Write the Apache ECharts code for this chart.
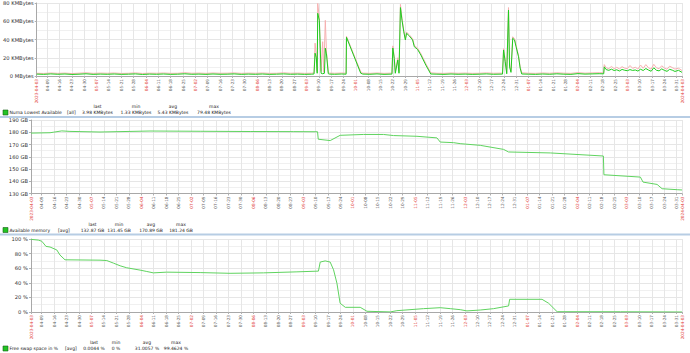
<!DOCTYPE html>
<html><head><meta charset="utf-8">
<script src="https://cdn.jsdelivr.net/npm/echarts@6/dist/echarts.min.js"></script>
<style>html,body{margin:0;padding:0;background:#fff}#c{width:690px;height:353px}</style>
</head><body><div id="c"></div>
<script>
// x values are day offsets from 2023-04-02
const xTickDays = [1,7,14,21,28,35,42,49,56,63,70,77,84,91,98,105,112,119,126,133,140,147,154,161,168,175,182,189,196,203,210,217,224,231,238,245,252,259,266,273,280,287,294,301,308,315,322,329,336,343,350,357,364,367];
const xTickLabels = ['2023-04-03','04-09','04-16','04-23','04-30','05-07','05-14','05-21','05-28','06-04','06-11','06-18','06-25','07-02','07-09','07-16','07-23','07-30','08-06','08-13','08-20','08-27','09-03','09-10','09-17','09-24','10-01','10-08','10-15','10-22','10-29','11-05','11-12','11-19','11-26','12-03','12-10','12-17','12-24','12-31','01-07','01-14','01-21','01-28','02-04','02-11','02-18','02-25','03-03','03-10','03-17','03-24','03-31','2024-04-03'];

const numaAvg = [[1,2.1],[5,1.8],[9,2.3],[13,1.9],[17,2.2],[21,1.7],[25,2.0],[29,2.4],[33,1.8],[37,2.1],[41,1.9],[45,2.2],[49,1.8],[53,2.0],[57,2.3],[61,1.7],[65,2.1],[69,1.9],[73,2.2],[77,1.8],[81,2.0],[85,2.4],[89,1.9],[93,2.1],[97,1.8],[101,2.2],[105,1.9],[109,2.0],[113,2.3],[117,1.8],[121,2.1],[125,1.9],[129,2.2],[133,1.8],[137,2.0],[141,2.3],[145,1.9],[149,2.1],[153,1.8],[157,2.0],
[158.3,2.2],[158.9,25],[159.6,20],[160.1,3],[160.4,68.7],[161.3,61],[162.3,3],[163.2,2.5],[164.2,3],[164.7,30.5],[165.4,23],[166.4,2.5],[167,2.1],
[170,1.9],[174,2.2],[176.5,2.0],[176.7,42.4],[184.8,3.0],[186,2.1],[190,1.9],[194,2.3],[198,1.8],[202.5,2.1],
[203,30.7],[203.8,19],[204.4,3],[205.8,17.5],[206.5,3],[207.3,75],[208.2,61],[209.2,48.5],[210.1,39.5],[210.8,46.8],[212.4,43.8],[214.2,39.5],[215.2,32],[217,29.2],[218.9,23],[221.7,12],[224.5,2.2],
[228,2.0],[232,1.8],[236,2.2],[240,1.9],[244,2.1],[248,1.8],[252,2.0],[256,2.3],[260,1.9],[265.2,2.1],
[265.8,28.5],[266.7,16],[267.6,2.5],[268.6,72.3],[269.2,10],[270,4],[271,41.3],[272,39.5],[272.9,32],[274.3,21],[275.2,8.7],[276.1,2.2],
[280,2.0],[284,1.8],[288,2.2],[292,1.9],[296,2.4],[300,2.0],[304,1.8],[308,2.6],[312,2.1],[316,2.3],[320,2.5],[322.6,2.4],
[322.9,10],[324,7],[325.5,6.2],[327,7.5],[328.5,6.0],[330,6.8],[331.5,5.5],[333,7.2],[334.5,6.3],[336,5.8],[337.5,7.0],[339,6.1],[340.5,6.6],[342,5.4],[343.5,7.4],[345,6.0],[346.5,8.2],[348,6.5],[349.5,5.2],[351,9.0],[352.5,6.3],[354,5.6],[355.5,7.8],[357,6.2],[358.5,5.1],[360,7.3],[361.5,6.4],[363,5.0],[365,6.2],[367,3.98]];

const numaMax = [[1,3.0],[5,2.8],[9,3.3],[13,2.9],[17,3.2],[21,2.7],[25,3.1],[29,3.5],[33,2.9],[37,3.2],[41,3.0],[45,3.3],[49,2.8],[53,3.0],[57,3.4],[61,2.8],[65,3.1],[69,3.0],[73,3.3],[77,2.9],[81,3.0],[85,3.6],[89,3.0],[93,3.2],[97,2.9],[101,3.3],[105,3.0],[109,3.1],[113,3.4],[117,2.9],[121,3.2],[125,3.0],[129,3.3],[133,2.9],[137,3.0],[141,3.5],[145,3.0],[149,3.2],[153,2.9],[157,3.1],
[158.3,3.5],[158.9,36],[159.6,22],[160.1,5],[160.4,79.5],[161.3,64],[162.3,5],[163.2,37.6],[163.8,4],[164.7,61],[165.4,25],[165.8,18],[166.4,4],[167,3.2],
[170,3.0],[174,3.3],[176.5,3.1],[176.7,43.5],[184.8,4.5],[186,3.1],[190,2.9],[194,3.3],[198,2.9],[202.5,3.2],
[203,33],[203.8,21],[204.4,5],[205.8,20],[206.5,5],[207.3,78.5],[208.2,63],[209.2,50],[210.1,41],[210.8,48],[212.4,45],[214.2,41],[215.2,33.5],[217,30.5],[218.9,24.5],[221.7,13.5],[224.5,3.5],
[228,3.0],[232,2.9],[236,3.3],[240,3.0],[244,3.2],[248,2.9],[252,3.0],[256,3.4],[260,3.0],[265.2,3.2],
[265.8,30],[266.7,18],[267.6,4],[268.6,75],[269.2,12],[270,5.5],[271,43],[272,41],[272.9,33.5],[274.3,22.5],[275.2,10],[276.1,3.5],
[280,3.0],[284,2.9],[288,3.3],[292,3.0],[296,3.5],[300,3.1],[304,2.9],[308,3.7],[312,3.1],[316,3.4],[320,3.6],[322.6,3.5],
[322.9,12.5],[324,9],[325.5,8.2],[327,10.5],[328.5,8.0],[330,9.5],[331.5,7.8],[333,10.2],[334.5,8.6],[336,8.0],[337.5,11.5],[339,8.4],[340.5,9.6],[342,7.6],[343.5,12],[345,8.5],[346.5,12.5],[348,9.0],[349.5,7.5],[351,12.8],[352.5,9.0],[354,8.0],[355.5,11.2],[357,8.8],[358.5,7.4],[360,10.8],[361.5,9.2],[363,7.6],[365,8.5],[367,6.0]];

const memAvail = [[1,179.3],[11.7,179.6],[13.5,180],[18.3,181.1],[22.9,180.7],[39.8,180.2],[67.9,181],[96.1,180.8],[124.2,180.6],[148.4,180.5],[162.1,180.4],[162.5,174.3],[169.2,173.2],[174.8,177.5],[187.9,178.2],[199.2,178.2],[204.8,177.3],[218,176.7],[229.2,175.4],[231.1,172],[238.6,171.5],[242.3,170.7],[253.6,169.3],[266.7,166],[269.5,163.9],[293,163.1],[322.8,160.6],[323.1,145.3],[343.6,143.4],[345.1,139.3],[353,137.4],[355.8,133.9],[364.3,133.1],[367,132.87]];

const swapFree = [[1,99.5],[5.1,98.5],[7,97],[7.9,94.5],[9.4,89.9],[11.7,89],[15.5,85],[17.3,78],[20.1,71.5],[39.8,71],[43.6,70.5],[47.3,67],[51.1,63.3],[54.8,60.6],[62.3,57.4],[66.1,55.5],[69.8,53.6],[77.3,54.6],[96.1,54],[112.9,53],[131.7,53.6],[150.5,55],[162.6,56],[163.6,68.4],[166.4,70],[169.2,68.4],[171.1,57.8],[173,39.4],[174.8,12],[177.7,6.4],[186.1,6.4],[189.9,1],[203,0.1],[206.7,1.8],[221.7,4.6],[231.1,5.9],[236.7,4.6],[242.3,3.2],[246.1,1.5],[253.6,2.7],[261.1,4.6],[269.5,8.3],[270.1,17.4],[288.3,17.4],[292,12],[296.8,0.4],[332.4,0.3],[367,0.0044]];

const FONT = 'DejaVu Sans';
const LFS = 4.5;
const grids = [
  {left:31, right:8, top:3, height:73},
  {left:31, right:8, top:120, height:73.5},
  {left:31, right:8, top:239, height:73}
];
function xAxisFor(i){
  return {
    type:'value', gridIndex:i, min:1, max:367,
    axisLine:{show:true, onZero:false, lineStyle:{color:'#a8a8a8', width:1}},
    axisTick:{show:true, customValues:xTickDays, length:2, lineStyle:{color:'#b0b0b0'}},
    axisLabel:{
      customValues:xTickDays, interval:0, rotate:90, margin:3,
      fontFamily:FONT, fontSize:4.2, color:'#555',
      formatter:function(v){
        const idx = xTickDays.indexOf(Math.round(v));
        if(idx<0) return '';
        const l = xTickLabels[idx];
        const red = l.length>5 || parseInt(l.slice(3),10)<=7;
        return red ? '{r|'+l+'}' : l;
      },
      rich:{r:{color:'#e03030', fontFamily:FONT, fontSize:4.2}}
    },
    splitLine:{show:true, lineStyle:{color:'#e6e6e6', width:1}}
  };
}
function yAxisFor(i, min, max, interval, fmt){
  return {
    type:'value', gridIndex:i, min:min, max:max, interval:interval,
    axisLine:{show:true, lineStyle:{color:'#a8a8a8'}},
    axisTick:{show:true, length:2, lineStyle:{color:'#b0b0b0'}},
    axisLabel:{fontFamily:FONT, fontSize:5.2, color:'#333', margin:3, formatter:fmt},
    splitLine:{show:true, lineStyle:{color:'#e6e6e6'}},
    minorTick:{show:false, splitNumber:2},
    minorSplitLine:{show:true, lineStyle:{color:'#f0f0f0'}}
  };
}
const txt = (x,y,t,align) => ({type:'text', x:x, y:y, style:{text:t, fontFamily:FONT, fontSize:LFS, fill:'#222', align:align||'left', verticalAlign:'middle'}});
const sq = (y) => ({type:'rect', shape:{x:3,y:y,width:5,height:5}, style:{fill:'#22c322', stroke:'#1a5e1a', lineWidth:0.6}});
const graphic = [
  {type:'rect', shape:{x:0,y:116,width:690,height:2}, style:{fill:'#b7cde4'}},
  {type:'rect', shape:{x:0,y:233.5,width:690,height:2}, style:{fill:'#b7cde4'}},
  sq(110), txt(9.5,112.5,'Numa Lowest Available'), txt(67,112.5,'[all]'),
  txt(97.5,106.5,'last','center'), txt(136,106.5,'min','center'), txt(173,106.5,'avg','center'), txt(214,106.5,'max','center'),
  txt(97.5,112.5,'3.98 KMBytes','center'), txt(136,112.5,'1.33 KMBytes','center'), txt(173,112.5,'5.43 KMBytes','center'), txt(214,112.5,'79.48 KMBytes','center'),
  sq(227.5), txt(9.5,230,'Available memory'), txt(58,230,'[avg]'),
  txt(92.5,224,'last','center'), txt(119,224,'min','center'), txt(151,224,'avg','center'), txt(181,224,'max','center'),
  txt(92.5,230,'132.87 GB','center'), txt(119,230,'131.45 GB','center'), txt(151,230,'170.89 GB','center'), txt(181,230,'181.24 GB','center'),
  sq(346), txt(9.5,348.5,'Free swap space in %'), txt(65,348.5,'[avg]'),
  txt(94,342.5,'last','center'), txt(116,342.5,'min','center'), txt(147,342.5,'avg','center'), txt(176,342.5,'max','center'),
  txt(94,348.5,'0.0044 %','center'), txt(116,348.5,'0 %','center'), txt(147,348.5,'31.0057 %','center'), txt(176,348.5,'99.4624 %','center')
];
const chart = echarts.init(document.getElementById('c'), null, {renderer:'svg'});
chart.setOption({
  animation:false,
  backgroundColor:'#fff',
  grid:grids,
  xAxis:[xAxisFor(0), xAxisFor(1), xAxisFor(2)],
  yAxis:[
    yAxisFor(0,0,80,20,v=> v===0 ? '0 MBytes' : v+' KMBytes'),
    yAxisFor(1,130,190,10,v=> v+' GB'),
    yAxisFor(2,0,100,20,v=> v+' %')
  ],
  series:[
    {type:'line', xAxisIndex:0, yAxisIndex:0, data:numaMax, showSymbol:false, lineStyle:{color:'#f6b0b0', width:1}, z:2},
    {type:'line', xAxisIndex:0, yAxisIndex:0, data:numaAvg, showSymbol:false, lineStyle:{color:'#1fcc1f', width:1}, z:3},
    {type:'line', xAxisIndex:1, yAxisIndex:1, data:memAvail, showSymbol:false, lineStyle:{color:'#5fd35f', width:1}},
    {type:'line', xAxisIndex:2, yAxisIndex:2, data:swapFree, showSymbol:false, lineStyle:{color:'#5fd35f', width:1}}
  ],
  graphic:graphic
});
</script></body></html>
